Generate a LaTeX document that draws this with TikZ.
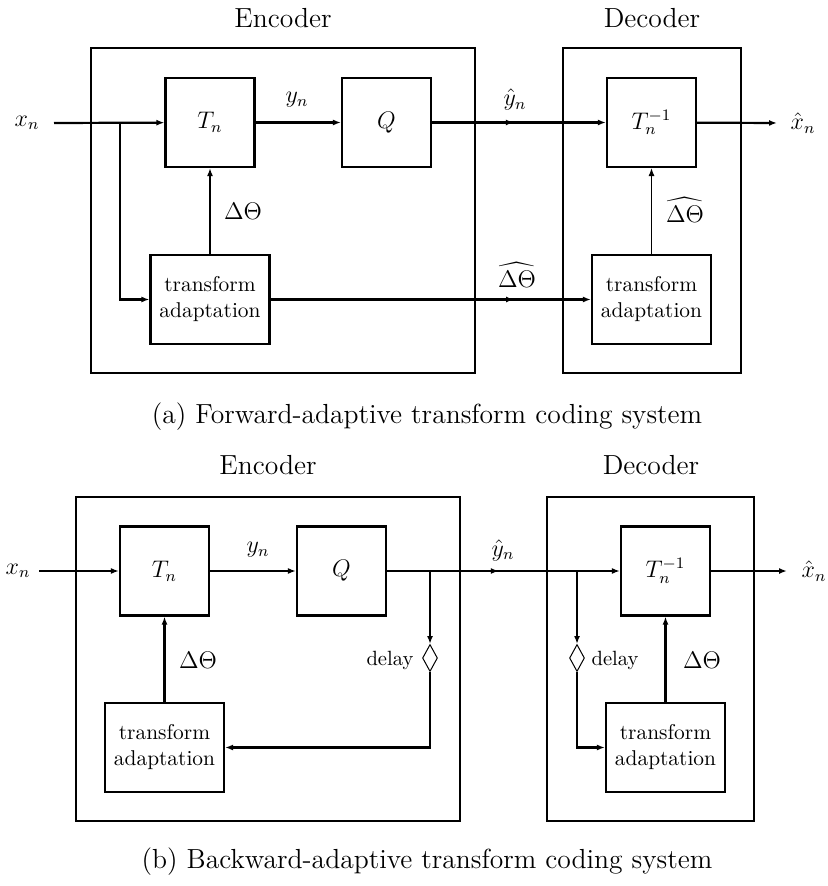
\documentclass[tikz,border=0pt]{standalone}
\usepackage{amsmath}
\usetikzlibrary{arrows.meta,shapes.geometric,decorations.markings}

\begin{document}
\begin{tikzpicture}[x=0.5pt, y=-0.5pt,
  frame/.style={draw, line width=1pt, inner sep=0pt},
  blk/.style={draw, line width=1.1pt, minimum width=44.5pt, minimum height=44.5pt, font=\fontsize{12}{14}\selectfont},
  adapt/.style={draw, line width=1.1pt, minimum width=59.5pt, minimum height=44.5pt, align=center, font=\fontsize{10.7}{13}\selectfont},
  dly/.style={draw, diamond, line width=0.5pt, minimum width=7.5pt, minimum height=13.5pt, inner sep=0pt},
  arr/.style={-{Latex[length=4pt,width=3pt]}, line width=1.1pt},
  midarr/.style={postaction=decorate, decoration={markings,
    mark=at position #1 with {\arrow{Latex[length=4pt,width=3pt]}}}},
  lbl/.style={font=\fontsize{12}{14}\selectfont},
  note/.style={font=\fontsize{10.3}{12}\selectfont},
  ttl/.style={font=\fontsize{13.8}{16}\selectfont}
]
  \useasboundingbox (0,0) rectangle (827,886);

  % (a) forward-adaptive system
  \node[frame, minimum width=192pt, minimum height=162.5pt] (encA) at (283,210.5) {};
  \node[frame, minimum width=89pt, minimum height=162.5pt] (decA) at (652,210.5) {};
  \node[ttl] (encAt) at (283,18) {Encoder};
  \node[ttl] (decAt) at (652,18) {Decoder};

  \node[blk] (tA)   at (210,122.5)   {$T_n$};
  \node[blk] (qA)   at (386.5,122.5) {$Q$};
  \node[blk] (tiA)  at (651.5,122.5) {$T_n^{-1}$};
  \node[adapt] (adA)  at (210,299.5)   {transform\\adaptation};
  \node[adapt] (adDA) at (651.5,299.5) {transform\\adaptation};

  \coordinate (xinA)  at (54,123);
  \coordinate (jA)    at (120,123);
  \coordinate (xoutA) at (777,123);

  \draw[arr] (xinA) -- (tA);
  \draw[arr] (jA) |- (adA);
  \draw[arr] (adA) -- (tA);
  \draw[arr] (tA) -- (qA);
  \draw[arr, midarr=0.47] (qA) -- (tiA);
  \draw[arr] (tiA) -- (xoutA);
  \draw[arr, midarr=0.76] (adA) -- (adDA);
  \draw[arr, line width=0.5pt] (adDA) -- (tiA);

  \node[lbl] (xnA)  at (27,123)  {$x_n$};
  \node[lbl] (ynA)  at (297,100) {$y_n$};
  \node[lbl] (yhA)  at (515,100) {$\hat{y}_n$};
  \node[lbl] (xhA)  at (803,123) {$\hat{x}_n$};
  \node[lbl] (dtA)  at (243,211) {$\Delta\Theta$};
  \node[lbl] (dhA)  at (517,275) {$\widehat{\Delta\Theta}$};
  \node[lbl] (dhDA) at (685,210) {$\widehat{\Delta\Theta}$};

  \node[ttl] (capA) at (427,417) {(a) Forward-adaptive transform coding system};

  % (b) backward-adaptive system
  \node[frame, minimum width=192pt, minimum height=162pt] (encB) at (268,659) {};
  \node[frame, line width=0.8pt, minimum width=103.5pt, minimum height=162pt] (decB) at (650.5,659) {};
  \node[ttl] (encBt) at (268,465) {Encoder};
  \node[ttl] (decBt) at (651,465) {Decoder};

  \node[blk] (tB)   at (164.5,571) {$T_n$};
  \node[blk] (qB)   at (341.5,571) {$Q$};
  \node[blk] (tiB)  at (665.5,571) {$T_n^{-1}$};
  \node[adapt] (adB)  at (164.5,747.5) {transform\\adaptation};
  \node[adapt] (adDB) at (665.5,747.5) {transform\\adaptation};
  \node[dly] (dlyE) at (430,658) {};
  \node[dly] (dlyD) at (577,658) {};

  \coordinate (xinB)  at (39,571);
  \coordinate (jEB)   at (430,571);
  \coordinate (jDB)   at (577,571);
  \coordinate (xoutB) at (787,571);

  \draw[arr] (xinB) -- (tB);
  \draw[arr] (tB) -- (qB);
  \draw[arr, midarr=0.48] (qB) -- (tiB);
  \draw[arr] (tiB) -- (xoutB);
  \draw[arr] (jEB) -- (dlyE);
  \draw[arr] (dlyE) |- (adB);
  \draw[arr] (adB) -- (tB);
  \draw[arr] (jDB) -- (dlyD);
  \draw[arr] (dlyD) |- (adDB);
  \draw[arr] (adDB) -- (tiB);

  \node[lbl] (xnB) at (18,571)  {$x_n$};
  \node[lbl] (ynB) at (258,550) {$y_n$};
  \node[lbl] (yhB) at (503,550) {$\hat{y}_n$};
  \node[lbl] (xhB) at (814,571) {$\hat{x}_n$};
  \node[lbl] (dtB)  at (198,660) {$\Delta\Theta$};
  \node[lbl] (dtDB) at (702,660) {$\Delta\Theta$};
  \node[note] (dlE) at (390,660) {delay};
  \node[note] (dlD) at (615,660) {delay};

  \node[ttl] (capB) at (427,862) {(b) Backward-adaptive transform coding system};
\end{tikzpicture}
\end{document}
